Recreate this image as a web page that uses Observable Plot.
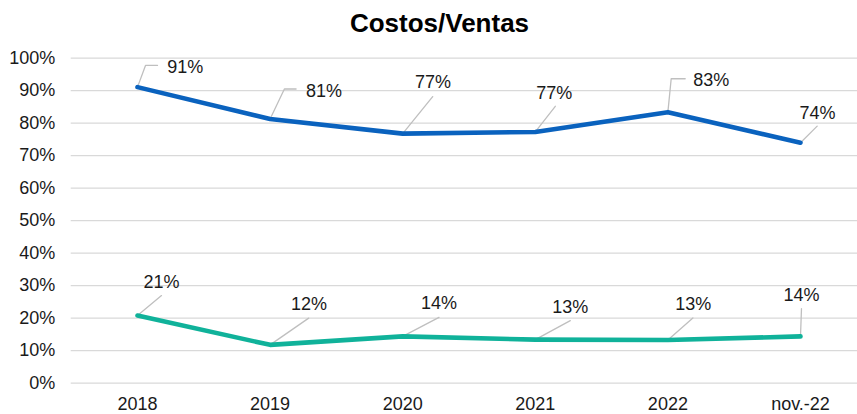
<!DOCTYPE html>
<html>
<head>
<meta charset="utf-8">
<script src="https://cdn.jsdelivr.net/npm/d3@7"></script>
<script src="https://cdn.jsdelivr.net/npm/@observablehq/plot@0.6"></script>
<style>
  html, body { margin: 0; padding: 0; background: #fff; }
  #wrap { position: relative; width: 857px; height: 414px; overflow: hidden; font-family: "Liberation Sans", Arial, sans-serif; }
  #title { position: absolute; top: 3px; left: 11px; width: 857px; height: 40px; line-height: 40px; text-align: center; font-size: 26px; font-weight: bold; color: #000; }
  #chart { position: absolute; top: 40px; left: 0; }
</style>
</head>
<body>
<div id="wrap">
  <div id="title">Costos/Ventas</div>
  <div id="chart"></div>
</div>
<script>
// ---- data ----
const categories = ["2018", "2019", "2020", "2021", "2022", "nov.-22"];
const serieAzul = [0.911, 0.813, 0.768, 0.773, 0.834, 0.740];
const serieVerde = [0.208, 0.118, 0.144, 0.134, 0.133, 0.144];
const yTicks = [0, 0.1, 0.2, 0.3, 0.4, 0.5, 0.6, 0.7, 0.8, 0.9, 1.0];

// ---- label placement (pixel offsets from each point: label centre, leader elbow, leader end) ----
const labelAzul = [
  {lx: 47.7, ly: -20, elbow: [8, -21.7], end: [20, -21.7]},
  {lx: 54, ly: -27.6, elbow: [14.3, -30], end: [26, -30]},
  {lx: 30.3, ly: -51, elbow: null, end: [30, -37]},
  {lx: 19, ly: -39, elbow: null, end: [20, -25.7]},
  {lx: 43.3, ly: -32.4, elbow: [3.3, -33.4], end: [17.3, -33.4]},
  {lx: 17, ly: -29, elbow: null, end: [16.7, -16.6]}
];
const labelVerde = [
  {lx: 24, ly: -33.3, elbow: null, end: [24, -20]},
  {lx: 38.8, ly: -40.3, elbow: null, end: [38.6, -26.7]},
  {lx: 36.3, ly: -33, elbow: null, end: [36.3, -19]},
  {lx: 35, ly: -32.3, elbow: null, end: [35, -19]},
  {lx: 25.3, ly: -36, elbow: null, end: [25, -22]},
  {lx: 1, ly: -41, elbow: null, end: [1, -27.7]}
];

// ---- layout ----
const W = 857, H = 374, ML = 70.7, MR = 0, MT = 17.7, MB = 31.3;
const xDom = [-0.5, 5.43];
const kx = (W - ML - MR) / (xDom[1] - xDom[0]);
const ky = (H - MT - MB);
const fmt = d3.format(".0%");

function build(values, place, sid) {
  const pts = values.map((v, i) => ({i, v}));
  const labels = values.map((v, i) => ({
    x: i + place[i].lx / kx,
    y: v - place[i].ly / ky,
    text: fmt(v)
  }));
  const leaders = [];
  values.forEach((v, i) => {
    const p = place[i];
    const id = sid + i;
    leaders.push({id, x: i, y: v});
    if (p.elbow) leaders.push({id, x: i + p.elbow[0] / kx, y: v - p.elbow[1] / ky});
    leaders.push({id, x: i + p.end[0] / kx, y: v - p.end[1] / ky});
  });
  return {pts, labels, leaders};
}

const A = build(serieAzul, labelAzul, "a");
const V = build(serieVerde, labelVerde, "v");

const chart = Plot.plot({
  width: W,
  height: H,
  marginLeft: ML,
  marginRight: MR,
  marginTop: MT,
  marginBottom: MB,
  style: {fontFamily: "'Liberation Sans', Arial, sans-serif", fontSize: "18px", color: "#1a1a1a", background: "transparent"},
  x: {domain: xDom, ticks: d3.range(categories.length), tickFormat: i => categories[i], tickSize: 0, tickPadding: 14, label: null},
  y: {domain: [0, 1], ticks: yTicks, tickFormat: fmt, tickSize: 0, tickPadding: 16, label: null},
  marks: [
    Plot.gridY(yTicks, {stroke: "#d9d9d9", strokeOpacity: 1, strokeWidth: 1.3}),
    Plot.line(A.leaders, {x: "x", y: "y", z: "id", stroke: "#bfbfbf", strokeWidth: 1.3}),
    Plot.line(V.leaders, {x: "x", y: "y", z: "id", stroke: "#bfbfbf", strokeWidth: 1.3}),
    Plot.line(A.pts, {x: "i", y: "v", stroke: "#0A62BE", strokeWidth: 4.6, strokeLinecap: "round", strokeLinejoin: "round"}),
    Plot.line(V.pts, {x: "i", y: "v", stroke: "#10B29A", strokeWidth: 4.6, strokeLinecap: "round", strokeLinejoin: "round"}),
    Plot.text(A.labels, {x: "x", y: "y", text: "text", fontSize: 18, fill: "#1a1a1a"}),
    Plot.text(V.labels, {x: "x", y: "y", text: "text", fontSize: 18, fill: "#1a1a1a"})
  ]
});
document.getElementById("chart").appendChild(chart);
</script>
</body>
</html>
